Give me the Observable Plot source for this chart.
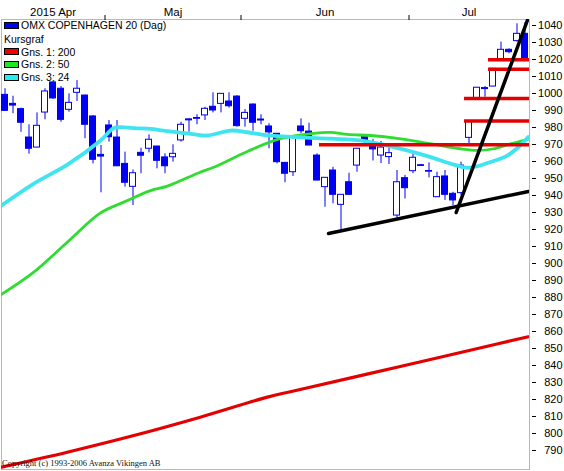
<!DOCTYPE html>
<html>
<head>
<meta charset="utf-8">
<script src="https://cdn.jsdelivr.net/npm/d3@7"></script>
<script src="https://cdn.jsdelivr.net/npm/@observablehq/plot@0.6"></script>
<style>
  body { margin: 0; background: #fff; }
  #wrap { position: relative; width: 564px; height: 471px; font-family: "Liberation Sans", Arial, sans-serif; overflow: hidden; }
  #wrap svg { position: absolute; left: 0; top: 0; }
  .lg { position: absolute; left: 4px; height: 14px; line-height: 14px; font-size: 10.5px; color: #000; display: flex; align-items: center; white-space: nowrap; }
  .sw { display: inline-block; width: 15px; height: 7px; box-sizing: border-box; border: 1px solid #000; margin-right: 2px; }
  #copy { position: absolute; left: 2px; top: 459px; font-family: "Liberation Serif", "Times New Roman", serif; font-size: 8.5px; line-height: 9px; color: #111; white-space: nowrap; }
</style>
</head>
<body>
<div id="wrap"></div>
<script>
// ---- data ----
const dates = [
  "2015-04-14","2015-04-15","2015-04-16","2015-04-17","2015-04-20","2015-04-21","2015-04-22","2015-04-23","2015-04-24","2015-04-27","2015-04-28","2015-04-29","2015-04-30",
  "2015-05-04","2015-05-05","2015-05-06","2015-05-07","2015-05-08","2015-05-11","2015-05-12","2015-05-13","2015-05-18","2015-05-19","2015-05-20","2015-05-21","2015-05-22","2015-05-26","2015-05-27","2015-05-28","2015-05-29",
  "2015-06-01","2015-06-02","2015-06-03","2015-06-04","2015-06-08","2015-06-09","2015-06-10","2015-06-11","2015-06-12","2015-06-15","2015-06-16","2015-06-17","2015-06-18","2015-06-19","2015-06-22","2015-06-23","2015-06-24","2015-06-25","2015-06-26","2015-06-29","2015-06-30",
  "2015-07-01","2015-07-02","2015-07-03","2015-07-06","2015-07-07","2015-07-08","2015-07-09","2015-07-10","2015-07-13","2015-07-14","2015-07-15","2015-07-16","2015-07-17","2015-07-20","2015-07-21"
];
const open = [999.2,993.9,990.8,974.1,968.2,988.8,1006.5,1002.8,990.4,1000.4,998.8,986.5,963.9,
  981.2,974.1,958.6,945.1,965.1,967.5,968.8,962.4,962.5,972.4,984.2,985.1,987.1,992.2,993.9,995.3,998.2,
  985.1,993.5,984.7,980.6,976.3,959.2,953.7,980.6,977.6,963.5,944.9,954.7,934.5,947.8,957.6,974.6,970.0,963.5,962.6,928.2,950.2,
  954.3,957.8,954.0,939.0,951.2,941.0,941.4,973.9,996.9,1002.6,1004.1,1019.8,1025.7,1030.8,1035.1];
const high = [1002.8,998.4,991.4,981.6,988.6,1002.8,1007.1,1004.1,999.8,1007.6,999.0,987.0,969.4,
  984.1,984.1,965.5,955.0,967.8,975.7,969.0,964.5,969.8,983.1,985.1,987.5,991.9,1000.4,999.9,1000.4,998.8,
  990.6,993.9,987.5,982.2,976.5,959.4,974.7,985.1,982.5,964.5,950.6,956.6,940.6,953.1,967.7,975.0,972.9,971.8,968.4,954.7,951.8,
  964.5,958.3,959.2,953.7,954.7,941.9,959.6,983.9,1003.6,1004.1,1014.7,1030.2,1026.3,1041.0,1041.8];
const low = [989.5,988.1,977.2,964.3,968.0,984.5,996.5,983.1,989.0,995.3,973.4,958.6,941.6,
  971.4,957.0,944.9,934.1,952.8,965.1,955.7,952.8,959.6,971.4,977.2,981.6,984.1,988.6,988.6,991.4,980.2,
  980.2,977.8,981.6,967.5,958.6,947.5,951.2,976.3,969.2,948.6,933.1,935.1,920.0,940.2,953.7,971.5,960.3,958.8,958.2,926.3,938.0,
  952.8,957.3,950.4,938.8,937.1,934.1,940.0,970.4,995.9,997.8,1003.9,1019.4,1023.4,1030.2,1020.3];
const close = [989.8,992.9,982.8,967.5,981.0,1001.2,997.1,984.5,994.5,1002.8,981.6,961.0,962.9,
  974.3,957.2,947.5,953.1,963.4,972.8,960.4,957.2,964.5,981.6,984.8,985.6,991.0,990.0,999.8,992.5,980.8,
  988.6,982.8,984.1,977.1,959.6,952.8,974.3,977.8,969.4,948.8,950.4,940.4,940.4,940.4,967.5,971.8,967.1,968.2,964.9,947.8,944.3,
  962.2,957.4,954.4,950.8,940.4,937.1,957.6,983.7,1003.4,1003.2,1014.5,1025.7,1024.3,1035.1,1020.4];

// moving averages (trading-day index, value)
const ma200X = [-0.44, 7.78, 16.1, 24.4, 32.8, 36.9, 49.4, 61.9, 65.4];
const ma200Y = [780.2, 789.0, 798.8, 809.6, 821.4, 825.9, 839.4, 853.1, 856.9];
const ma50X = [-0.44, 3.6, 7.78, 11.9, 14.85, 18.2, 20.3, 24.4, 26.1, 30.3, 34.4, 38.6, 40.7, 42.8, 45.7, 48.6, 52.8, 56.9, 59.1, 61.1, 63.2, 65.3];
const ma50Y = [881.8, 894.9, 912.5, 929.6, 936.1, 942.9, 945.5, 953.7, 956.6, 965.9, 973.4, 976.6, 977.1, 975.9, 975.3, 973.9, 970.8, 967.5, 966.5, 967.5, 970.4, 972.9];
const ma24X = [-0.44, 3.56, 7.81, 11.94, 13.56, 14.44, 16.06, 18.19, 19.8, 23.2, 25.3, 28.2, 30.3, 32.3, 36.6, 40.7, 44.4, 48.6, 52.8, 56.1, 57.9, 60.7, 62.8, 64.4, 65.4];
const ma24Y = [934.1, 946.9, 958.2, 972.4, 979.6, 980.2, 979.6, 979.2, 978.2, 976.3, 975.3, 978.2, 977.2, 975.7, 974.3, 973.4, 972.4, 968.5, 963.2, 958.2, 956.2, 959.7, 963.5, 969.4, 974.4];

// horizontal levels (value, start index)
const levelValues = [969.8, 983.8, 997.0, 1014.3, 1019.8];
const levelStart = [39.31, 57.44, 57.44, 60.44, 60.44];

// trend lines
const supportX = [40.44, 65.44], supportY = [917.6, 942.4];
const steepX = [56.4, 65.3], steepY = [930.0, 1043.0];

const yTicks = d3.range(790, 1041, 10);
const monthNames = ["2015 Apr", "Maj", "Jun", "Jul"];
const legendLabels = ["OMX COPENHAGEN 20 (Dag)", "Kursgraf", "Gns. 1: 200", "Gns. 2: 50", "Gns. 3: 24"];

// ---- styles ----
const BLUE = "#0000f4", RED = "#e40000", GREEN = "#30dc30", CYAN = "#40e4f0";
const legendColors = [BLUE, null, "#ee0000", "#22e622", "#22eeee"];
const legendTops = [25, 39, 51.7, 64, 77.3];

const xDomain = [-0.4375, 65.5625];
const candles = dates.map((d, i) => ({i, date: d, open: open[i], high: high[i], low: low[i], close: close[i]}));
const pts = (xs, ys) => xs.map((x, k) => ({i: x, v: ys[k]}));
const levels = levelValues.map((v, k) => ({v, from: levelStart[k]}));

// month boundaries and label centres from the trading dates
const boundaries = [];
for (let i = 1; i < dates.length; i++) if (dates[i].slice(0, 7) !== dates[i - 1].slice(0, 7)) boundaries.push(i - 0.5);
const segStarts = [-0.5, ...boundaries], segEnds = [...boundaries, dates.length - 0.5];
const monthTicks = monthNames.map((label, k) => ({x: (segStarts[k] + segEnds[k]) / 2, label}));

const chart = Plot.plot({
  width: 564, height: 471,
  marginTop: 19, marginBottom: 2, marginLeft: 1, marginRight: 35,
  style: {fontFamily: "'Liberation Sans', Arial, sans-serif", fontSize: "11px", color: "#000", background: "transparent", overflow: "visible"},
  x: {type: "linear", domain: xDomain, axis: null},
  y: {domain: [778.82, 1043.53], axis: null},
  marks: [
    Plot.frame({stroke: "#b8b8b8"}),
    Plot.ruleX(candles, {x: "i", y1: "low", y2: "high", stroke: BLUE, strokeWidth: 1}),
    Plot.rect(candles, {x1: d => d.i - 0.375, x2: d => d.i + 0.375, y1: "open", y2: "close",
      fill: d => d.close >= d.open ? "#fff" : BLUE, stroke: BLUE, strokeWidth: 1}),
    Plot.line(pts(ma200X, ma200Y), {x: "i", y: "v", stroke: RED, strokeWidth: 3.2, curve: "catmull-rom", clip: "frame"}),
    Plot.line(pts(ma50X, ma50Y), {x: "i", y: "v", stroke: GREEN, strokeWidth: 2.8, curve: "catmull-rom", clip: "frame"}),
    Plot.line(pts(ma24X, ma24Y), {x: "i", y: "v", stroke: CYAN, strokeWidth: 3.8, curve: "catmull-rom", clip: "frame"}),
    Plot.ruleY(levels, {y: "v", x1: "from", x2: xDomain[1], stroke: RED, strokeWidth: 3.5}),
    Plot.line(pts(supportX, supportY), {x: "i", y: "v", stroke: "#000", strokeWidth: 3.5, clip: "frame"}),
    Plot.line(pts(steepX, steepY), {x: "i", y: "v", stroke: "#000", strokeWidth: 3.5, clip: "frame"}),
    Plot.axisY({anchor: "right", ticks: yTicks, tickSize: 4, dx: 2, tickPadding: 27, textAnchor: "end", tickFormat: d => String(d), fontSize: 11}),
    Plot.axisX({anchor: "top", ticks: boundaries, tickSize: 5, tickFormat: () => ""}),
    Plot.text(monthTicks, {x: "x", text: "label", frameAnchor: "top", dy: -12, fontSize: 11.5, fill: "#000"})
  ]
});

const wrap = document.getElementById("wrap");
wrap.appendChild(chart);

legendLabels.forEach((label, k) => {
  const row = document.createElement("div");
  row.className = "lg";
  row.style.top = (legendTops[k] - 7) + "px";
  if (legendColors[k]) {
    const sw = document.createElement("span");
    sw.className = "sw";
    sw.style.background = legendColors[k];
    row.appendChild(sw);
  }
  row.appendChild(document.createTextNode(label));
  wrap.appendChild(row);
});

const copy = document.createElement("div");
copy.id = "copy";
copy.textContent = "Copyright (c) 1993-2006 Avanza Vikingen AB";
wrap.appendChild(copy);
</script>
</body>
</html>
